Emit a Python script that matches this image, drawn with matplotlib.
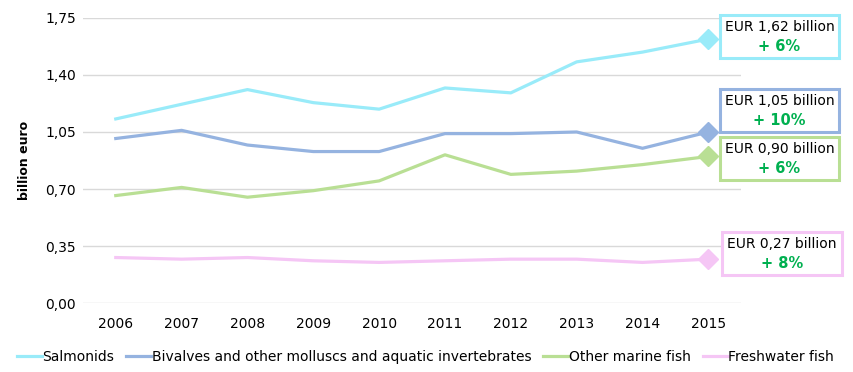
import matplotlib.pyplot as plt
from matplotlib.patches import Rectangle

years = [2006, 2007, 2008, 2009, 2010, 2011, 2012, 2013, 2014, 2015]
salmonids = [1.13, 1.22, 1.31, 1.23, 1.19, 1.32, 1.29, 1.48, 1.54, 1.62]
bivalves = [1.01, 1.06, 0.97, 0.93, 0.93, 1.04, 1.04, 1.05, 0.95, 1.05]
marine = [0.66, 0.71, 0.65, 0.69, 0.75, 0.91, 0.79, 0.81, 0.85, 0.90]
freshwater = [0.28, 0.27, 0.28, 0.26, 0.25, 0.26, 0.27, 0.27, 0.25, 0.27]

names = ["Salmonids", "Bivalves and other molluscs and aquatic invertebrates",
         "Other marine fish", "Freshwater fish"]
colors = ["#99ebf9", "#95b3e0", "#b9df94", "#f5c6f5"]
labels = ["EUR 1,62 billion", "EUR 1,05 billion", "EUR 0,90 billion", "EUR 0,27 billion"]
changes = ["+ 6%", "+ 10%", "+ 6%", "+ 8%"]
box_y = [1.636, 1.182, 0.887, 0.304]
box_x = [2016.08, 2016.08, 2016.08, 2016.12]

fig = plt.figure(figsize=(8.54, 3.72), dpi=100)
ax = fig.add_axes([0.097, 0.185, 0.771, 0.767])

series = [salmonids, bivalves, marine, freshwater]
for vals, name, c in zip(series, names, colors):
    ax.plot(years, vals, color=c, lw=2.3, label=name, zorder=3)
    ax.plot(years[-1], vals[-1], marker="D", ms=10, color=c, zorder=4)

# value boxes to the right of the last point
for lab, chg, c, yc, x0 in zip(labels, changes, colors, box_y, box_x):
    ax.add_patch(Rectangle((x0 - 0.91, yc - 0.132), 1.82, 0.264, fill=True,
                           facecolor="white", edgecolor=c, lw=2.2, clip_on=False, zorder=5))
    ax.text(x0, yc + 0.058, lab, ha="center", va="center", fontsize=10, zorder=6,
            clip_on=False)
    ax.text(x0, yc - 0.062, chg, ha="center", va="center", fontsize=10.5, zorder=6,
            color="#00b050", fontweight="bold", clip_on=False)

ax.set_xlim(2005.5, 2015.5)
ax.set_ylim(0, 1.75)
ax.set_xticks(years)
yt = [0, 0.35, 0.70, 1.05, 1.40, 1.75]
ax.set_yticks(yt)
ax.set_yticklabels([f"{v:.2f}".replace(".", ",") for v in yt])
ax.tick_params(length=0, labelsize=10, pad=5)
ax.tick_params(axis="x", pad=10)
ax.grid(axis="y", color="#d9d9d9", lw=1)
ax.set_axisbelow(True)
for s in ax.spines.values():
    s.set_visible(False)
ax.set_ylabel("billion euro", fontsize=9, fontweight="bold", labelpad=10)

fig.legend(loc="lower center", bbox_to_anchor=(0.498, -0.012), ncol=4, frameon=False,
           fontsize=10, handlelength=1.8, handletextpad=0.05, columnspacing=0.85)

fig.savefig("out.png", dpi=100)
